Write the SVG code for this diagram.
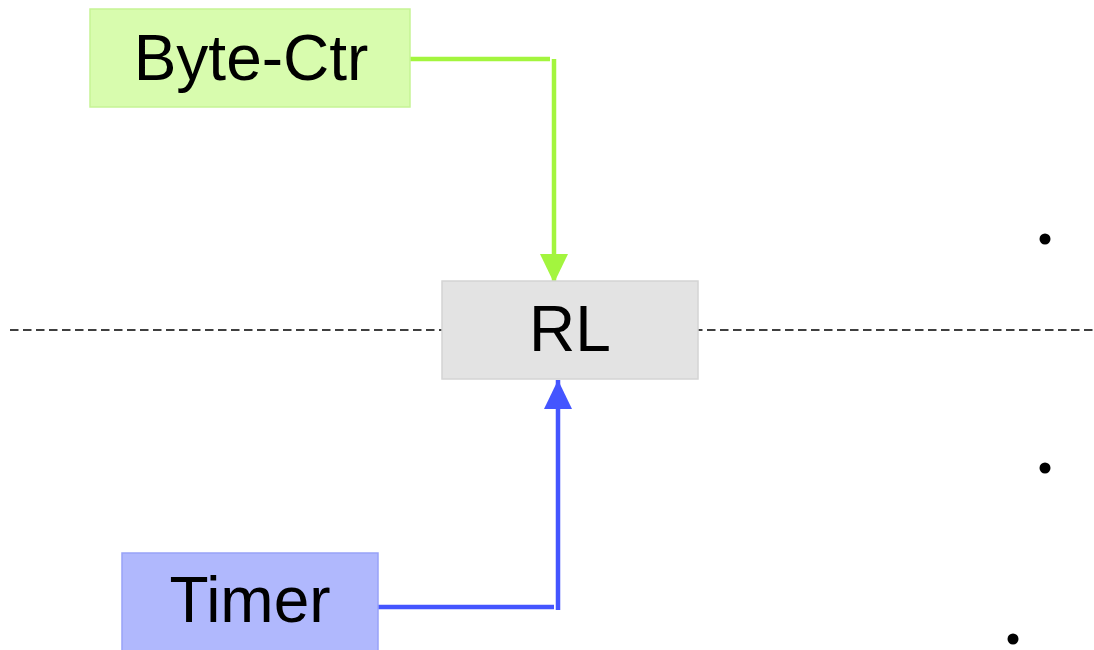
<svg xmlns="http://www.w3.org/2000/svg" width="1094" height="650" viewBox="0 0 1094 650">
<style>
  .lbl { font-family: "Liberation Sans", Arial, sans-serif; font-size: 64px; fill: #000; text-anchor: middle; }
  .dash { stroke: #000; stroke-width: 1.5; stroke-dasharray: 8.5 4.5; fill: none; }
  .dot { fill: #000; }
  .g { stroke: #a3f53e; stroke-width: 4.5; fill: none; }
  .b { stroke: #4455ff; stroke-width: 4.5; fill: none; }
</style>
<defs>
  <marker id="arrG" markerUnits="userSpaceOnUse" markerWidth="30" markerHeight="30" viewBox="0 0 30 30" refX="29" refY="15" orient="auto">
    <path d="M0,1 L29,15 L0,29 Z" fill="#a3f53e"/>
  </marker>
  <marker id="arrB" markerUnits="userSpaceOnUse" markerWidth="30" markerHeight="30" viewBox="0 0 30 30" refX="29" refY="15" orient="auto">
    <path d="M0,1 L29,15 L0,29 Z" fill="#4455ff"/>
  </marker>
</defs>
<rect width="1094" height="650" fill="#fff"/>
<g id="guides">
  <line class="dash" x1="10" y1="330" x2="442" y2="330"/>
  <line class="dash" x1="694" y1="330" x2="1094" y2="330"/>
  <circle class="dot" cx="1045" cy="239" r="5.5"/>
  <circle class="dot" cx="1045" cy="468" r="5.5"/>
  <circle class="dot" cx="1013" cy="639" r="5.5"/>
</g>
<g id="connectors">
  <line class="g" x1="408" y1="59" x2="550" y2="59"/>
  <line class="g" x1="554" y1="59" x2="554" y2="283" marker-end="url(#arrG)"/>
  <line class="b" x1="378" y1="607" x2="554" y2="607"/>
  <line class="b" x1="558" y1="610" x2="558" y2="380" marker-end="url(#arrB)"/>
</g>
<g id="node-bytectr">
  <rect x="90" y="9" width="320" height="98" fill="#d8fcae" stroke="#c6f495" stroke-width="1.5"/>
  <text class="lbl" x="251" y="80">Byte-Ctr</text>
</g>
<g id="node-rl">
  <rect x="442" y="281" width="256" height="98" fill="#e3e3e3" stroke="#d4d4d4" stroke-width="1.5"/>
  <text class="lbl" x="570" y="351">RL</text>
</g>
<g id="node-timer">
  <rect x="122" y="553" width="256" height="110" fill="#b0b8fd" stroke="#98a2f8" stroke-width="1.5"/>
  <text class="lbl" x="250" y="622">Timer</text>
</g>
</svg>
